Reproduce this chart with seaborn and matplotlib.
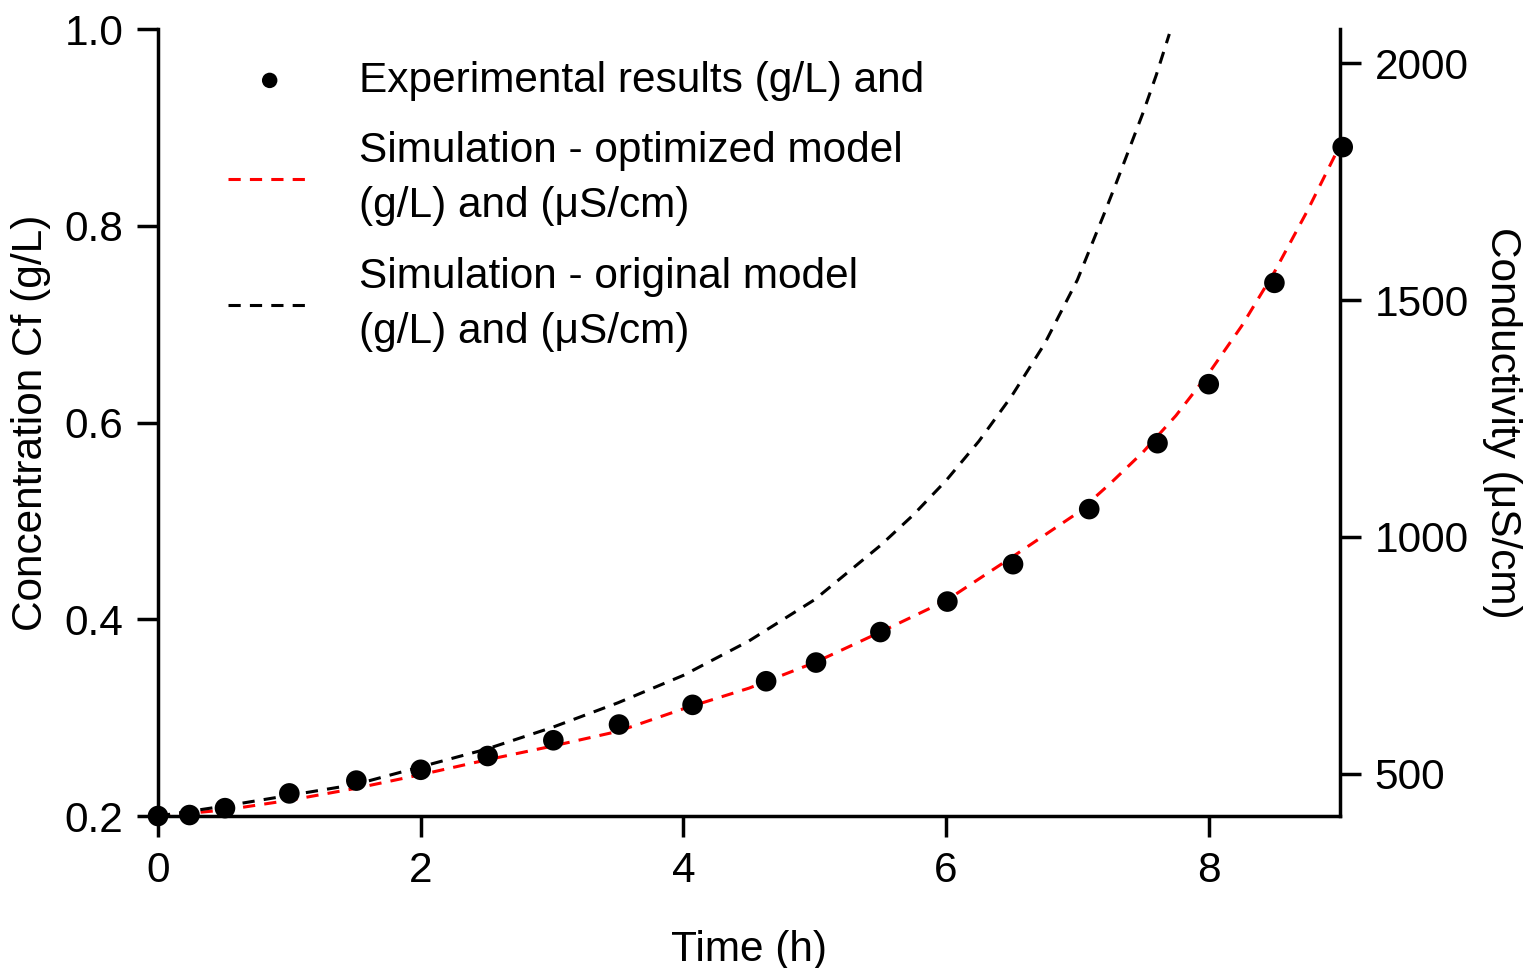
import numpy as np
import pandas as pd
import matplotlib
matplotlib.use("Agg")
import matplotlib.pyplot as plt
import seaborn as sns

# experimental points (g/L)
exp_time = [0, 0.24, 0.51, 1.0, 1.51, 2.0, 2.51, 3.01, 3.51, 4.07, 4.63, 5.01,
            5.5, 6.01, 6.51, 7.09, 7.61, 8.0, 8.5, 9.02]
exp_conc = [0.200, 0.201, 0.208, 0.223, 0.236, 0.247, 0.261, 0.277, 0.293, 0.313,
            0.337, 0.356, 0.387, 0.418, 0.456, 0.512, 0.579, 0.639, 0.742, 0.880]

# simulation - optimized model
opt_time = [0, 0.5, 1, 1.5, 2, 2.5, 3, 3.5, 4, 4.5, 5, 5.5, 6, 6.5, 7, 7.25, 7.5,
            7.75, 8, 8.25, 8.5, 8.75, 9]
opt_conc = [0.200, 0.206, 0.216, 0.228, 0.242, 0.257, 0.271, 0.286, 0.309, 0.330,
            0.356, 0.387, 0.419, 0.463, 0.508, 0.538, 0.570, 0.607, 0.650, 0.698,
            0.753, 0.815, 0.882]

# simulation - original model
orig_time = [0, 0.5, 1, 1.5, 2, 2.5, 3, 3.5, 4, 4.5, 5, 5.5, 5.75, 6, 6.25, 6.5,
             6.75, 7, 7.1, 7.2, 7.3, 7.4, 7.5, 7.6, 7.7]
orig_conc = [0.200, 0.210, 0.221, 0.232, 0.250, 0.268, 0.290, 0.315, 0.343, 0.378,
             0.420, 0.475, 0.506, 0.541, 0.581, 0.627, 0.680, 0.745, 0.778, 0.811,
             0.845, 0.880, 0.915, 0.953, 0.995]

sns.set_style("ticks")
plt.rcParams["font.family"] = ["Liberation Sans", "DejaVu Sans"]
plt.rcParams["font.size"] = 30.5
plt.rcParams["text.color"] = "black"
plt.rcParams["axes.labelcolor"] = "black"
plt.rcParams["xtick.color"] = "black"
plt.rcParams["ytick.color"] = "black"
plt.rcParams["axes.edgecolor"] = "black"

fig = plt.figure(figsize=(15.31, 9.68), dpi=100)
ax = fig.add_axes([0.1032, 0.157, 0.7721, 0.813])

sns.lineplot(x=opt_time, y=opt_conc, ax=ax, color="red", lw=2.2,
             linestyle=(0, (4, 3)), label="Simulation - optimized model\n(g/L) and (\u03bcS/cm)")
sns.lineplot(x=orig_time, y=orig_conc, ax=ax, color="black", lw=2.2,
             linestyle=(0, (4, 3)), label="Simulation - original model\n(g/L) and (\u03bcS/cm)")
sns.scatterplot(x=exp_time, y=exp_conc, ax=ax, color="black", s=220,
                edgecolor="none", label="Experimental results (g/L) and", zorder=5, clip_on=False)

ax.set_xlim(0, 9)
ax.set_ylim(0.2, 1.0)
ax.set_xticks([0, 2, 4, 6, 8])
ax.set_yticks([0.2, 0.4, 0.6, 0.8, 1.0])
ax.set_yticklabels(["0.2", "0.4", "0.6", "0.8", "1.0"])
ax.set_xlabel("Time (h)", labelpad=28)
ax.set_ylabel("Concentration Cf (g/L)", labelpad=10)
ax.tick_params(width=2.5, length=15, labelsize=30.5, pad=10)
for s in ["left", "bottom"]:
    ax.spines[s].set_linewidth(2.5)
ax.spines["top"].set_visible(False)
ax.spines["right"].set_visible(False)

ax2 = ax.twinx()
ax2.set_ylim(411, 2072)
ax2.set_yticks([500, 1000, 1500, 2000])
ax2.set_ylabel("Conductivity (\u03bcS/cm)", rotation=270, labelpad=38)
ax2.tick_params(width=2.5, length=15, labelsize=30.5, pad=10)
ax2.spines["right"].set_linewidth(2.5)
for s in ["top", "left", "bottom"]:
    ax2.spines[s].set_visible(False)

h, l = ax.get_legend_handles_labels()
order = [2, 0, 1]
leg = ax.legend([h[i] for i in order], [l[i] for i in order], loc="upper left",
                bbox_to_anchor=(0.059, 0.960), frameon=False, fontsize=30.5,
                handlelength=1.98, handletextpad=1.13, borderaxespad=0, borderpad=0,
                labelspacing=0.72, markerscale=0.75)
for t in leg.get_texts():
    t.set_linespacing(1.49)

fig.savefig("out.png", dpi=100)
